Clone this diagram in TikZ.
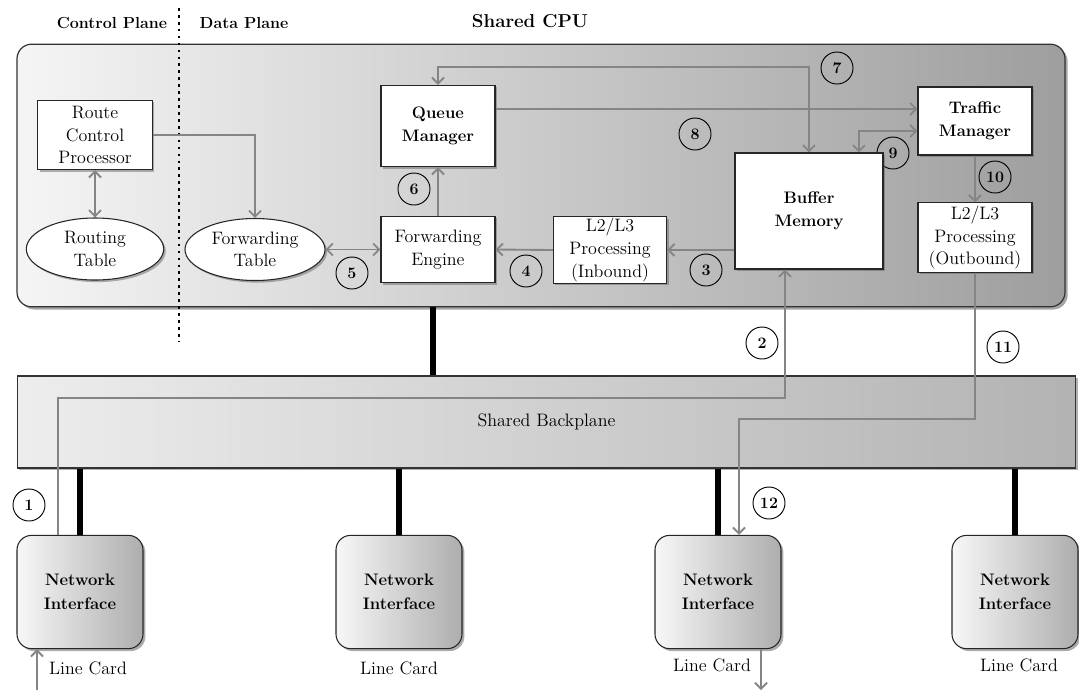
\documentclass[tikz,border=0pt]{standalone}
\usetikzlibrary{arrows.meta,shadows,shapes.geometric}

\definecolor{flowgray}{HTML}{858585}
\tikzset{
  box/.style={draw=black!85,fill=white,line width=0.8pt,align=center,inner sep=1pt,
    font=\fontsize{13.5}{17}\selectfont,
    drop shadow={shadow xshift=1.6pt,shadow yshift=-1.6pt,fill=black!60}},
  bbox/.style={box,font=\fontsize{12.5}{17}\selectfont\bfseries},
  table/.style={box,ellipse,inner sep=0pt,minimum width=103pt,minimum height=46.5pt},
  netif/.style={draw=black!85,line width=0.8pt,rounded corners=11pt,align=center,
    left color=black!3,right color=black!32,minimum width=94.5pt,minimum height=85pt,
    font=\fontsize{12.5}{18}\selectfont\bfseries,
    drop shadow={shadow xshift=1.8pt,shadow yshift=-1.8pt,fill=black!65}},
  num/.style={circle,draw=black,line width=0.7pt,minimum size=24pt,inner sep=0pt,
    font=\fontsize{12}{12}\selectfont\bfseries},
  flow/.style={draw=flowgray,line width=1.4pt,->},
  dflow/.style={flow,<->},
  bus/.style={draw=black,line width=4.5pt},
  cardlabel/.style={font=\fontsize{13.5}{13.5}\selectfont}
}

\begin{document}
\begin{tikzpicture}[>={Straight Barb[length=4.5pt,width=9pt]},x=0.75pt,y=-0.75pt]
  \useasboundingbox (0,0) rectangle (1079,694);

  % titles
  \node[font=\fontsize{12}{12}\selectfont\bfseries] (ctl) at (112,23) {Control Plane};
  \node[font=\fontsize{12}{12}\selectfont\bfseries] (dat) at (244,23) {Data Plane};
  \node[font=\fontsize{14}{14}\selectfont\bfseries] (cpuname) at (530,21) {Shared CPU};

  % shared CPU and backplane
  \node[draw=black!80,line width=0.9pt,rounded corners=11pt,left color=black!4,right color=black!38,
    minimum width=786pt,minimum height=197pt,
    drop shadow={shadow xshift=2pt,shadow yshift=-2pt,fill=black!70}] (cpu) at (541,175.5) {};
  \node[draw=black!80,line width=0.9pt,left color=black!7,right color=black!30,
    minimum width=794pt,minimum height=69pt,font=\fontsize{13.5}{13.5}\selectfont,
    drop shadow={shadow xshift=1.6pt,shadow yshift=-1.6pt,fill=black!60}] (bp) at (546.5,422) {Shared Backplane};

  % plane split
  \draw[line width=1.6pt,dash pattern=on 2pt off 3.2pt] (179,8) -- (179,342);

  % step numbers
  \node[num] (n1) at (29,505) {1};
  \node[num] (n2) at (762,343) {2};
  \node[num] (n3) at (706,270) {3};
  \node[num] (n4) at (526,271) {4};
  \node[num] (n5) at (352,273) {5};
  \node[num] (n6) at (414,189) {6};
  \node[num] (n7) at (837,68) {7};
  \node[num] (n8) at (695,134) {8};
  \node[num] (n9) at (893,153) {9};
  \node[num] (n10) at (995,177) {10};
  \node[num] (n11) at (1003,347) {11};
  \node[num] (n12) at (769,503) {12};

  % CPU blocks
  \node[box,minimum width=86pt,minimum height=52pt] (rcp) at (95,135) {Route\\Control\\Processor};
  \node[table] (rt) at (95,249) {Routing\\Table};
  \node[table,minimum width=105pt] (ft) at (255,249.5) {Forwarding\\Table};
  \node[bbox,minimum width=85.5pt,minimum height=61pt] (qm) at (438,126) {Queue\\Manager};
  \node[box,minimum width=85.5pt,minimum height=50pt] (fe) at (438,249.5) {Forwarding\\Engine};
  \node[box,minimum width=85pt,minimum height=50pt] (ib) at (610,250) {L2/L3\\Processing\\(Inbound)};
  \node[bbox,minimum width=111pt,minimum height=87pt] (bm) at (809,211) {Buffer\\Memory};
  \node[bbox,minimum width=85.5pt,minimum height=51pt] (tm) at (975,121) {Traffic\\Manager};
  \node[box,minimum width=85.5pt,minimum height=52pt] (ob) at (975,237.5) {L2/L3\\Processing\\(Outbound)};

  % line cards
  \node[netif] (ni1) at (80,592) {Network\\Interface};
  \node[netif] (ni2) at (399,592) {Network\\Interface};
  \node[netif] (ni3) at (718,592) {Network\\Interface};
  \node[netif] (ni4) at (1015,592) {Network\\Interface};
  \node[cardlabel] (lc1) at (88,668) {Line Card};
  \node[cardlabel] (lc2) at (399,668) {Line Card};
  \node[cardlabel] (lc3) at (712,665) {Line Card};
  \node[cardlabel] (lc4) at (1019,665) {Line Card};

  % buses
  \draw[bus] (cpu.south -| 433,0) -- (bp.north -| 433,0);
  \foreach \c in {ni1,ni2,ni3,ni4}
    \draw[bus] (\c.north |- bp.south) -- (\c.north);

  % control plane links
  \draw[dflow] (rcp.south) -- (rt.north);
  \draw[flow] (rcp.east) -| (ft.north);

  % packet path
  \coordinate (in1) at (37,690);
  \coordinate (out3) at (761,690);
  \coordinate (b9) at (859,0);
  \draw[flow] (in1) -- (ni1.south -| in1);
  \draw[flow] (ni1.north -| 58,0) |- (785,398) -- (bm.south -| 785,0);
  \draw[flow] (bm.west |- ib.east) -- (ib.east);
  \draw[flow] (ib.west) -- (fe.east);
  \draw[dflow] (ft.east) -- (fe.west);
  \draw[flow] (fe.north) -- (qm.south);
  \draw[dflow] (qm.north) |- (bm.north |- 0,67) -- (bm.north);
  \draw[flow] (qm.east |- 0,109) -- (tm.west |- 0,109);
  \draw[dflow] (bm.north -| b9) |- (tm.west |- 0,131);
  \draw[flow] (tm.south) -- (ob.north);
  \draw[flow] (ob.south) |- (739,419) -- (ni3.north -| 739,0);
  \draw[flow] (ni3.south -| out3) -- (out3);
\end{tikzpicture}
\end{document}
